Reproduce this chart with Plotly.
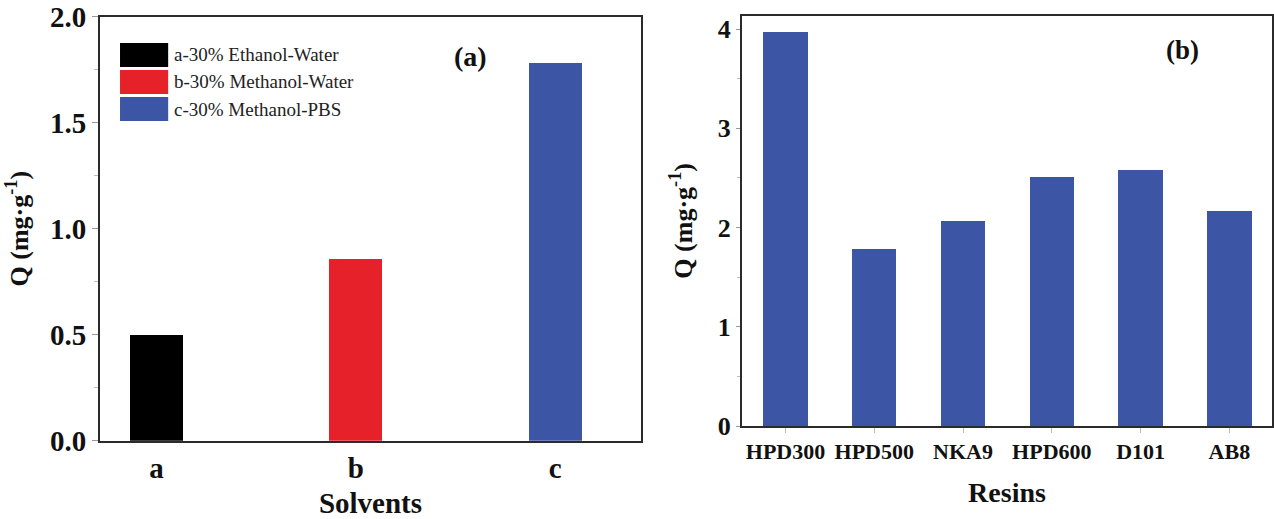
import plotly.graph_objects as go

# ---- data ----
solvents = ["a", "b", "c"]
solvent_names = ["a-30% Ethanol-Water", "b-30% Methanol-Water", "c-30% Methanol-PBS"]
solvent_q = [0.50, 0.86, 1.785]
solvent_colors = ["#000000", "#E62129", "#3D55A5"]

resins = ["HPD300", "HPD500", "NKA9", "HPD600", "D101", "AB8"]
resin_q = [3.97, 1.785, 2.07, 2.51, 2.58, 2.17]
resin_color = "#3D55A5"

FONT = "Liberation Serif"
AXCOL = "#2b2b2b"
TXT = "#111111"
W, H = 1274, 519

fig = go.Figure()

fig.add_trace(go.Bar(
    x=solvents, y=solvent_q, marker=dict(color=solvent_colors, line=dict(width=0)),
    width=0.266, xaxis="x", yaxis="y", showlegend=False,
))
fig.add_trace(go.Bar(
    x=resins, y=resin_q, marker=dict(color=resin_color, line=dict(width=0)),
    width=0.5, xaxis="x2", yaxis="y2", showlegend=False,
))

# custom legend with large swatches (panel a)
shapes = []
annotations = []
row_h = 0.0566
row_step = 0.0637
top = 0.938
for i, (nm, col) in enumerate(zip(solvent_names, solvent_colors)):
    y1 = top - i * row_step
    y0 = y1 - row_h
    shapes.append(dict(type="rect", xref="x domain", yref="y domain",
                       x0=0.037, x1=0.126, y0=y0, y1=y1,
                       fillcolor=col, line=dict(width=0)))
    annotations.append(dict(text=nm, xref="x domain", yref="y domain",
                            x=0.133, y=(y0 + y1) / 2, xanchor="left", yanchor="middle",
                            showarrow=False, font=dict(family=FONT, size=19, color="#222")))

annotations.append(dict(text="(a)", xref="x domain", yref="y domain",
                        x=0.684, y=0.905, xanchor="center", yanchor="middle",
                        showarrow=False,
                        font=dict(family=FONT, size=28, color=TXT, weight="bold")))
annotations.append(dict(text="(b)", xref="x2 domain", yref="y2 domain",
                        x=0.832, y=0.916, xanchor="center", yanchor="middle",
                        showarrow=False,
                        font=dict(family=FONT, size=27, color=TXT, weight="bold")))

axis_common = dict(showline=True, linecolor=AXCOL, linewidth=2, mirror=True,
                   showgrid=False, zeroline=False, automargin=False)

def bf(size):
    return dict(family=FONT, size=size, color=TXT, weight="bold")

fig.update_layout(
    width=W, height=H,
    margin=dict(l=0, r=0, t=0, b=0),
    paper_bgcolor="white", plot_bgcolor="white",
    font=dict(family=FONT, color=TXT),
    bargap=0,
    shapes=shapes, annotations=annotations,
    xaxis=dict(domain=[100/W, 641/W], anchor="y", type="category",
               range=[-0.283, 2.43], ticks="", **axis_common,
               tickfont=bf(29), ticklabelstandoff=0,
               title=dict(text="Solvents", font=bf(29), standoff=17)),
    yaxis=dict(domain=[(H-440.7)/H, (H-16.7)/H], anchor="x",
               range=[0, 2.0], dtick=0.5, tickformat=".1f",
               ticks="outside", ticklen=6, tickcolor="#999", tickwidth=1,
               minor=dict(dtick=0.25, ticks="outside", ticklen=4, tickcolor="#bbb"),
               tickfont=bf(29), **axis_common,
               title=dict(text="Q (mg·g<sup>-1</sup>)", font=bf(26), standoff=14)),
    xaxis2=dict(domain=[742/W, 1272/W], anchor="y2", type="category",
                range=[-0.49, 5.48], ticks="outside", ticklen=5, tickcolor="#bbb",
                tickfont=bf(22), **axis_common,
                title=dict(text="Resins", font=bf(28), standoff=19)),
    yaxis2=dict(domain=[(H-426)/H, (H-15.7)/H], anchor="x2",
                range=[0, 4.136], dtick=1,
                ticks="outside", ticklen=4, tickcolor="#999", tickwidth=1,
                minor=dict(dtick=0.5, ticks="outside", ticklen=3, tickcolor="#bbb"),
                tickfont=bf(26), **axis_common,
                title=dict(text="Q (mg·g<sup>-1</sup>)", font=bf(26), standoff=18)),
)

fig.write_html("out.html", config={"displayModeBar": False},
               post_script="document.body.style.margin='0';")
